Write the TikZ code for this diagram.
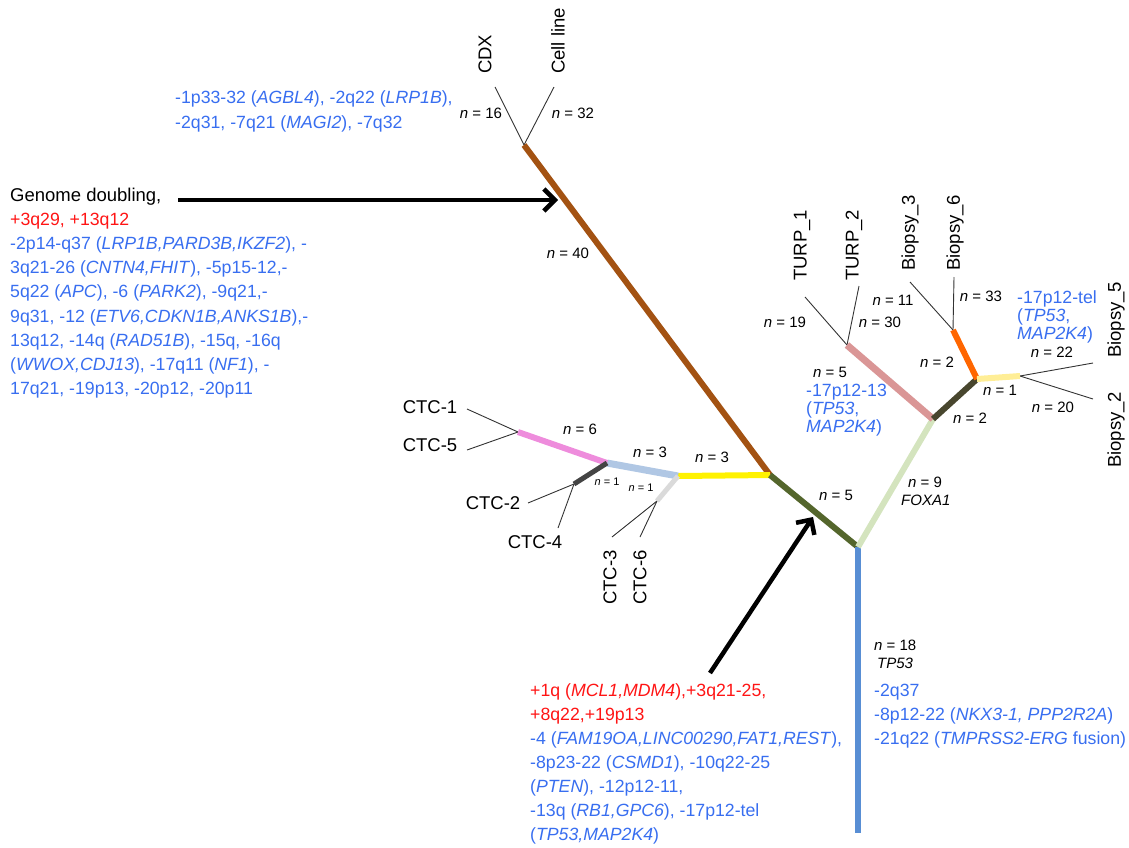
\documentclass[tikz,border=0pt]{standalone}
\usepackage{fontspec}
\setmainfont{Liberation Sans}
\usetikzlibrary{arrows.meta}
\definecolor{cbrown}{RGB}{163,82,18}
\definecolor{cdkgreen}{RGB}{84,102,44}
\definecolor{cyellow}{RGB}{255,242,0}
\definecolor{cltblue}{RGB}{176,199,228}
\definecolor{cpink}{RGB}{238,140,220}
\definecolor{cdkgray}{RGB}{68,68,68}
\definecolor{cltgray}{RGB}{218,218,218}
\definecolor{cltgreen}{RGB}{212,228,190}
\definecolor{crose}{RGB}{218,150,150}
\definecolor{cdkolive}{RGB}{72,70,46}
\definecolor{corange}{RGB}{255,102,0}
\definecolor{cpaleyel}{RGB}{255,238,150}
\definecolor{cblueline}{RGB}{88,142,212}
\definecolor{tblue}{RGB}{56,110,240}
\definecolor{tred}{RGB}{255,20,20}
\tikzset{
  leaf/.style={line width=0.9pt, draw=black!80},
  branch/.style={line width=6pt},
  bigarrow/.style={line width=4.5pt, -{Straight Barb[length=11pt,width=22pt]}},
  lab/.style={font=\fontsize{18.5}{22}\selectfont, inner sep=0pt},
  clab/.style={font=\fontsize{17.7}{22}\selectfont, inner sep=0pt},
  nlab/.style={font=\fontsize{15}{18}\selectfont, inner sep=0pt},
  slab/.style={font=\fontsize{11}{13}\selectfont, inner sep=0pt},
  txt/.style={lab, anchor=base west},
  btxt/.style={clab, anchor=base west, text=tblue},
  rtxt/.style={clab, anchor=base west, text=tred},
  vlab/.style={lab, rotate=90, anchor=west},
}
\newcommand{\nn}[1]{\textit{n} = #1}
\begin{document}
\begin{tikzpicture}[x=1pt,y=-1pt]
\useasboundingbox (0,0) rectangle (1129,847);
% coordinates
\coordinate (root) at (524,145);
\coordinate (cdxend) at (495,87);
\coordinate (cellend) at (554,87);
\coordinate (j1) at (770,475);
\coordinate (j2) at (858,547);
\coordinate (bottomend) at (858,833);
\coordinate (ctcA) at (678,476);
\coordinate (ctcB) at (607,463);
\coordinate (ctcC) at (518,432);
\coordinate (ctcD) at (574,484);
\coordinate (ctcE) at (657,501);
\coordinate (ctc1end) at (467,409);
\coordinate (ctc5end) at (467,450);
\coordinate (ctc2end) at (528,503);
\coordinate (ctc4end) at (558,528);
\coordinate (ctc3end) at (612,537);
\coordinate (ctc6end) at (640,537);
\coordinate (j3) at (933,419);
\coordinate (turpj) at (847,345);
\coordinate (turp1end) at (805,297);
\coordinate (turp2end) at (859,286);
\coordinate (j4) at (977,379);
\coordinate (bj36) at (953,330);
\coordinate (b3end) at (910,282);
\coordinate (b6end) at (954,277);
\coordinate (bj52) at (1020,376);
\coordinate (b5end) at (1093,363);
\coordinate (b2end) at (1093,399);
\coordinate (a1s) at (178,200);
\coordinate (a1e) at (558,200);
\coordinate (a2s) at (710,673);
\coordinate (a2e) at (813,517);

% thin leaf lines
\draw[leaf] (root) -- (cdxend);
\draw[leaf] (root) -- (cellend);
\draw[leaf] (ctcC) -- (ctc1end);
\draw[leaf] (ctcC) -- (ctc5end);
\draw[leaf] (ctcD) -- (ctc2end);
\draw[leaf] (ctcD) -- (ctc4end);
\draw[leaf] (ctcE) -- (ctc3end);
\draw[leaf] (ctcE) -- (ctc6end);
\draw[leaf] (turpj) -- (turp1end);
\draw[leaf] (turpj) -- (turp2end);
\draw[leaf] (bj36) -- (b3end);
\draw[leaf] (bj36) -- (b6end);
\draw[leaf] (bj52) -- (b5end);
\draw[leaf] (bj52) -- (b2end);

% thick branches
\draw[branch, cbrown] (root) -- (j1);
\draw[branch, cyellow] (j1) -- (ctcA);
\draw[branch, line width=7pt, cltblue] (ctcA) -- (ctcB);
\draw[branch, cpink] (ctcB) -- (ctcC);
\draw[branch, line width=5pt, cdkgray] (ctcB) -- (ctcD);
\draw[branch, line width=5pt, cltgray] (ctcA) -- (ctcE);
\draw[branch, cdkgreen] (j1) -- (j2);
\draw[branch, line width=6.5pt, cblueline] (j2) -- (bottomend);
\draw[branch, cltgreen] (j2) -- (j3);
\draw[branch, line width=7pt, crose] (j3) -- (turpj);
\draw[branch, cdkolive] (j3) -- (j4);
\draw[branch, corange] (j4) -- (bj36);
\draw[branch, cpaleyel] (j4) -- (bj52);

% arrows
\draw[bigarrow] (a1s) -- (a1e);
\draw[bigarrow] (a2s) -- (a2e);

% leaf labels
\node[vlab] (lcdx) at (485,74) {CDX};
\node[vlab] (lcell) at (558,74) {Cell line};
\node[vlab] (lturp1) at (802,281) {TURP\_1};
\node[vlab] (lturp2) at (854,281) {TURP\_2};
\node[vlab] (lb3) at (910,271) {Biopsy\_3};
\node[vlab] (lb6) at (955,271) {Biopsy\_6};
\node[vlab] (lb5) at (1116,358) {Biopsy\_5};
\node[vlab] (lb2) at (1116,468) {Biopsy\_2};
\node[lab] (lctc1) at (430,407) {CTC-1};
\node[lab] (lctc5) at (430,445) {CTC-5};
\node[lab] (lctc2) at (493,503) {CTC-2};
\node[lab] (lctc4) at (535,542) {CTC-4};
\node[lab, rotate=90, anchor=east] (lctc3) at (610,550) {CTC-3};
\node[lab, rotate=90, anchor=east] (lctc6) at (640,550) {CTC-6};

% n labels
\node[nlab] (n16) at (481,113) {\nn{16}};
\node[nlab] (n32) at (573,113) {\nn{32}};
\node[nlab] (n40) at (568,253) {\nn{40}};
\node[nlab] (n6) at (580,429) {\nn{6}};
\node[nlab] (n3a) at (650,452) {\nn{3}};
\node[nlab] (n3b) at (712,457) {\nn{3}};
\node[slab] (n1a) at (607,482) {\nn{1}};
\node[slab] (n1b) at (641,488) {\nn{1}};
\node[nlab] (n5g) at (836,495) {\nn{5}};
\node[nlab] (n19) at (785,322) {\nn{19}};
\node[nlab] (n30) at (880,322) {\nn{30}};
\node[nlab] (n11) at (893,300) {\nn{11}};
\node[nlab] (n33) at (981,296) {\nn{33}};
\node[nlab] (n5r) at (830,372) {\nn{5}};
\node[nlab] (n2o) at (937,362) {\nn{2}};
\node[nlab] (n22) at (1052,352) {\nn{22}};
\node[nlab] (n1c) at (1000,390) {\nn{1}};
\node[nlab] (n20) at (1053,407) {\nn{20}};
\node[nlab] (n2d) at (970,418) {\nn{2}};
\node[nlab, anchor=base west] (n9) at (908,487) {\nn{9}};
\node[nlab, anchor=base west] (foxa) at (901,505) {\textit{FOXA1}};
\node[nlab, anchor=base west] (n18) at (874,650.5) {\nn{18}};
\node[nlab, anchor=base west] (tp53) at (877,668.5) {\textit{TP53}};

% blue annotation near rose
\node[btxt] (r1) at (806,396) {-17p12-13};
\node[btxt] (r2) at (806,414) {(\textit{TP53},};
\node[btxt] (r3) at (806,432) {\textit{MAP2K4})};
% blue annotation near pale yellow
\node[btxt] (p1) at (1017,303) {-17p12-tel};
\node[btxt] (p2) at (1017,321) {(\textit{TP53},};
\node[btxt] (p3) at (1017,339) {\textit{MAP2K4})};

% top-left
\node[btxt] (t1) at (175,103.5) {-1p33-32 (\textit{AGBL4}), -2q22 (\textit{LRP1B}),};
\node[btxt] (t2) at (175,128) {-2q31, -7q21 (\textit{MAGI2}), -7q32};

% genome doubling block
\node[txt] (g0) at (10,201.5) {Genome doubling,};
\node[rtxt] (g1) at (10,225.6) {+3q29, +13q12};
\node[btxt] (g2) at (10,249.7) {-2p14-q37 (\textit{LRP1B,PARD3B,IKZF2}), -};
\node[btxt] (g3) at (10,273.8) {3q21-26 (\textit{CNTN4,FHIT}), -5p15-12,-};
\node[btxt] (g4) at (10,297.9) {5q22 (\textit{APC}), -6 (\textit{PARK2}), -9q21,-};
\node[btxt] (g5) at (10,322) {9q31, -12 (\textit{ETV6,CDKN1B,ANKS1B}),-};
\node[btxt] (g6) at (10,346) {13q12, -14q (\textit{RAD51B}), -15q, -16q};
\node[btxt] (g7) at (10,370) {(\textit{WWOX,CDJ13}), -17q11 (\textit{NF1}), -};
\node[btxt] (g8) at (10,394.3) {17q21, -19p13, -20p12, -20p11};

% bottom block
\node[rtxt] (b1) at (530,696.7) {+1q (\textit{MCL1,MDM4}),+3q21-25,};
\node[rtxt] (b2) at (530,720.7) {+8q22,+19p13};
\node[btxt] (b3) at (530,744.8) {-4 (\textit{FAM19OA,LINC00290,FAT1,REST}),};
\node[btxt] (b4) at (530,768.8) {-8p23-22 (\textit{CSMD1}), -10q22-25};
\node[btxt] (b5) at (530,792.7) {(\textit{PTEN}), -12p12-11,};
\node[btxt] (b6) at (530,816.7) {-13q (\textit{RB1,GPC6}), -17p12-tel};
\node[btxt] (b7) at (530,840.5) {(\textit{TP53,MAP2K4})};

% right block
\node[btxt] (c1) at (874,696.5) {-2q37};
\node[btxt] (c2) at (874,720.5) {-8p12-22 (\textit{NKX3-1, PPP2R2A})};
\node[btxt] (c3) at (874,744.5) {-21q22 (\textit{TMPRSS2-ERG} fusion)};
\end{tikzpicture}
\end{document}
